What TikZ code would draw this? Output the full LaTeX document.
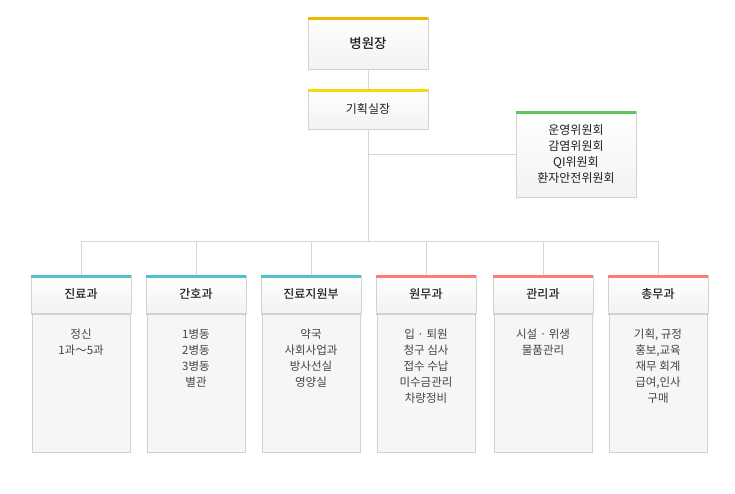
\documentclass[tikz,border=0pt]{standalone}
\usepackage{fontspec}
\setmainfont{Noto Sans CJK KR}
\newfontfamily\medfont{Noto Sans CJK KR Medium}
\usetikzlibrary{shadows,calc}
\definecolor{linegray}{HTML}{D6D6D6}
\definecolor{boxborder}{HTML}{D2D2D2}
\definecolor{bodyfill}{HTML}{F6F6F6}
\definecolor{barorange}{HTML}{F0B500}
\definecolor{baryellow}{HTML}{F5D90A}
\definecolor{bargreen}{HTML}{5BC65E}
\definecolor{barteal}{HTML}{4FC2C9}
\definecolor{barsalmon}{HTML}{FF7B74}
\definecolor{headtext}{HTML}{222222}
\definecolor{bodytext}{HTML}{444444}
\tikzset{
  conn/.style={draw=linegray, line width=0.9pt},
  headbox/.style={draw=boxborder, line width=0.6pt, top color=white, bottom color=black!5,
    drop shadow={shadow xshift=0pt, shadow yshift=-1.5pt, opacity=0.3},
    text=headtext, inner sep=0pt, font=\medfont\fontsize{12}{16}\selectfont},
  bodybox/.style={draw=boxborder, line width=0.8pt, fill=bodyfill, minimum width=98pt, minimum height=139pt, inner sep=0pt},
  bodytxt/.style={anchor=north, align=center, text=bodytext, inner sep=0pt, font=\fontsize{11.5}{16}\selectfont},
  deptbox/.style={headbox, minimum width=100pt, minimum height=38pt},
}
\newcommand{\topbar}[2]{\fill[#2] (#1.north west) rectangle ([yshift=-3.5pt]#1.north east);}
\begin{document}
\begin{tikzpicture}[x=1pt,y=-1pt]
\useasboundingbox (0,0) rectangle (735,494);
\coordinate (hub) at (368,241);
% top boxes
\node[headbox, minimum width=120pt, minimum height=52pt, font=\medfont\fontsize{13.5}{16}\selectfont] (chief) at (368,43) {병원장};
\node[headbox, minimum width=120pt, minimum height=40pt, font=\fontsize{12}{16}\selectfont] (plan) at (368,109) {기획실장};
\node[headbox, minimum width=120pt, minimum height=86pt, align=center, font=\fontsize{12}{16}\selectfont] (com) at (576,154) {운영위원회\\감염위원회\\QI위원회\\환자안전위원회};
% bottom bodies
\foreach \n/\x in {b1/81,b2/196,b3/311,b4/426,b5/543,b6/658}{
  \node[bodybox] (\n body) at (\x,382.5) {};
}
\foreach \n/\x/\t in {b1/81/진료과,b2/196/간호과,b3/311/진료지원부,b4/426/원무과,b5/543/관리과,b6/658/총무과}{
  \node[deptbox] (\n) at (\x,294) {\t};
}
\draw[conn] (chief.south) -- (plan.north);
\draw[conn] (plan.south) -- (hub);
\draw[conn] (plan.south |- com.west) -- (com.west);
\draw[conn] (b1.north |- hub) -- (b6.north |- hub);
\foreach \n in {b1,b2,b3,b4,b5,b6}{
  \draw[conn] (\n.north |- hub) -- (\n.north);
}
% bars
\topbar{chief}{barorange}
\topbar{plan}{baryellow}
\topbar{com}{bargreen}
\topbar{b1}{barteal}
\topbar{b2}{barteal}
\topbar{b3}{barteal}
\topbar{b4}{barsalmon}
\topbar{b5}{barsalmon}
\topbar{b6}{barsalmon}
% body texts
\node[bodytxt] (t1) at (81,329) {정신\\1과～5과};
\node[bodytxt] (t2) at (196,329) {1병동\\2병동\\3병동\\별관};
\node[bodytxt] (t3) at (311,329) {약국\\사회사업과\\방사선실\\영양실};
\node[bodytxt] (t4) at (426,329) {입 · 퇴원\\청구 심사\\접수 수납\\미수금관리\\차량정비};
\node[bodytxt] (t5) at (543,329) {시설 · 위생\\물품관리};
\node[bodytxt] (t6) at (658,329) {기획, 규정\\홍보,교육\\재무 회계\\급여,인사\\구매};
\end{tikzpicture}
\end{document}
